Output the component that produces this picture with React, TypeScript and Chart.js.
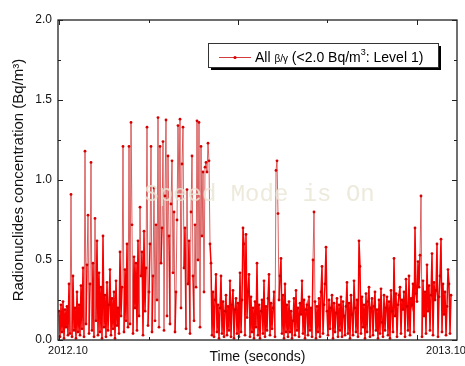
import { useEffect, useRef } from "react";
import { Chart, registerables } from "chart.js";

Chart.register(...registerables);

// Concentration values (Bq/m³), one sample per time step from 2012.10 to 2013.10
const concentration: number[] = [
  0.18, 0.02, 0.22, 0.05, 0.24, 0.01, 0.19, 0.08, 0.21, 0.03,
  0.35, 0.04, 0.91, 0.02, 0.40, 0.06, 0.20, 0.01, 0.30, 0.05,
  0.22, 0.03, 0.34, 0.07, 0.45, 0.02, 1.18, 0.10, 0.47, 0.78,
  0.04, 0.35, 1.11, 0.06, 0.48, 0.02, 0.76, 0.12, 0.62, 0.03,
  0.42, 0.05, 0.33, 0.01, 0.65, 0.08, 0.28, 0.02, 0.36, 0.06,
  0.22, 0.44, 0.03, 0.26, 0.07, 0.30, 0.01, 0.37, 0.09, 0.20,
  0.04, 0.55, 0.15, 0.33, 1.21, 0.05, 0.44, 0.12, 0.60, 0.08,
  1.21, 0.10, 1.36, 0.72, 0.04, 0.52, 0.20, 0.48, 0.06, 0.62,
  0.15, 0.83, 0.40, 0.55, 0.03, 0.68, 0.18, 0.45, 1.33, 0.09,
  0.30, 0.60, 1.21, 0.05, 0.40, 0.95, 0.12, 0.72, 0.25, 1.39,
  0.08, 1.21, 0.48, 0.70, 1.24, 0.06, 0.90, 1.375, 0.15, 1.15,
  0.65, 0.10, 0.85, 1.12, 0.42, 0.80, 0.05, 0.30, 0.75, 1.34,
  0.90, 1.38, 0.20, 1.10, 1.33, 0.45, 0.70, 0.07, 0.94, 0.35,
  0.62, 0.04, 0.80, 1.15, 0.40, 0.12, 0.72, 0.33, 1.37, 0.50,
  1.36, 0.08, 1.21, 0.65, 1.05, 0.30, 1.08, 1.11, 1.05, 1.23,
  1.12, 0.60, 0.48, 0.03, 0.30, 0.02, 0.25, 0.41, 0.05, 0.22,
  0.01, 0.20, 0.40, 0.04, 0.24, 0.02, 0.18, 0.28, 0.03, 0.21,
  0.06, 0.37, 0.02, 0.22, 0.31, 0.01, 0.19, 0.26, 0.04, 0.23,
  0.02, 0.42, 0.05, 0.25, 0.70, 0.60, 0.03, 0.66, 0.14, 0.30,
  0.41, 0.02, 0.27, 0.05, 0.20, 0.01, 0.24, 0.08, 0.48, 0.03,
  0.22, 0.01, 0.18, 0.25, 0.04, 0.37, 0.02, 0.21, 0.06, 0.26,
  0.41, 0.03, 0.23, 0.07, 0.20, 0.30, 0.02, 1.06, 1.12, 0.79,
  0.25, 0.40, 0.51, 0.04, 0.28, 0.01, 0.35, 0.05, 0.22, 0.02,
  0.24, 0.05, 0.18, 0.01, 0.12, 0.26, 0.03, 0.31, 0.06, 0.20,
  0.02, 0.23, 0.16, 0.37, 0.04, 0.25, 0.01, 0.19, 0.22, 0.03,
  0.27, 0.06, 0.20, 0.02, 0.50, 0.80, 0.24, 0.01, 0.21, 0.05,
  0.26, 0.02, 0.30, 0.46, 0.04, 0.22, 0.35, 0.58, 0.18, 0.03,
  0.25, 0.07, 0.20, 0.28, 0.01, 0.23, 0.05, 0.17, 0.26, 0.02,
  0.22, 0.06, 0.27, 0.02, 0.24, 0.15, 0.03, 0.21, 0.36, 0.04,
  0.23, 0.01, 0.28, 0.16, 0.03, 0.37, 0.20, 0.05, 0.25, 0.02,
  0.62, 0.46, 0.04, 0.27, 0.08, 0.22, 0.01, 0.29, 0.05, 0.24,
  0.33, 0.02, 0.20, 0.26, 0.03, 0.21, 0.30, 0.06, 0.19, 0.01,
  0.25, 0.04, 0.32, 0.11, 0.02, 0.28, 0.06, 0.20, 0.27, 0.03,
  0.24, 0.01, 0.31, 0.18, 0.05, 0.51, 0.15, 0.29, 0.02, 0.22,
  0.28, 0.33, 0.04, 0.25, 0.19, 0.30, 0.02, 0.38, 0.21, 0.06,
  0.40, 0.03, 0.26, 0.22, 0.35, 0.05, 0.70, 0.29, 0.24, 0.49,
  0.33, 0.53, 0.90, 0.02, 0.37, 0.15, 0.30, 0.04, 0.47, 0.18,
  0.34, 0.06, 0.28, 0.54, 0.03, 0.36, 0.25, 0.31, 0.60, 0.02,
  0.27, 0.40, 0.63, 0.05, 0.35, 0.16, 0.30, 0.03, 0.21, 0.44,
  0.35, 0.04, 0.28,
];

const xTickLabels: string[] = ["2012.10", "2013.10"];
const xTickSteps: number[] = [9, 387];
const xMajorTickSteps: number[] = [0.3, 179.3, 357.7];
const xMinorTickSteps: number[] = [90, 267.7];
const yMajorTicks: number[] = [0, 0.5, 1.0, 1.5, 2.0];
const yMinorTicks: number[] = [0.25, 0.75, 1.25, 1.75];

const FONT = "'Liberation Sans', Arial, sans-serif";

const framePlugin = {
  id: "frameTicks",
  afterDatasetsDraw(chart: any) {
    const { ctx, chartArea } = chart;
    const cx = (chartArea.left + chartArea.right) / 2;
    const cy = (chartArea.top + chartArea.bottom) / 2 + 15;
    ctx.save();
    ctx.font = "24px 'Liberation Mono', 'DejaVu Sans Mono', monospace";
    ctx.fillStyle = "rgba(234,230,214,0.85)";
    ctx.textAlign = "center";
    ctx.textBaseline = "middle";
    ctx.fillText("Speed Mode is On", cx + 2, cy);
    ctx.restore();
  },
  afterDraw(chart: any) {
    const { ctx, chartArea, scales } = chart;
    const { left, right, top, bottom } = chartArea;
    ctx.save();
    ctx.strokeStyle = "#222";
    ctx.lineWidth = 1.3;
    ctx.strokeRect(left, top, right - left, bottom - top);
    ctx.lineWidth = 1;
    const ys = scales.y;
    const xs = scales.x;
    const tick = (x1: number, y1: number, x2: number, y2: number) => {
      ctx.beginPath();
      ctx.moveTo(x1, y1);
      ctx.lineTo(x2, y2);
      ctx.stroke();
    };
    yMajorTicks.forEach((v) => {
      const p = Math.round(ys.getPixelForValue(v)) + 0.5;
      tick(left, p, left + 5, p);
      tick(right, p, right - 5, p);
    });
    yMinorTicks.forEach((v) => {
      const p = Math.round(ys.getPixelForValue(v)) + 0.5;
      tick(left, p, left + 3, p);
      tick(right, p, right - 3, p);
    });
    xMajorTickSteps.forEach((v) => {
      const p = Math.round(xs.getPixelForValue(v)) + 0.5;
      tick(p, top, p, top + 5);
      tick(p, bottom, p, bottom - 5);
    });
    xMinorTickSteps.forEach((v) => {
      const p = Math.round(xs.getPixelForValue(v)) + 0.5;
      tick(p, top, p, top + 3);
      tick(p, bottom, p, bottom - 3);
    });

    // legend box
    const bw = 230;
    const bh = 24;
    const bx = right - 19 - bw;
    const by = top + 23;
    ctx.fillStyle = "#000";
    ctx.fillRect(bx + 3, by + 3, bw, bh);
    ctx.fillStyle = "#fff";
    ctx.fillRect(bx, by, bw, bh);
    ctx.strokeStyle = "#333";
    ctx.lineWidth = 1;
    ctx.strokeRect(bx + 0.5, by + 0.5, bw, bh);
    const ly = by + 14.5;
    ctx.strokeStyle = "rgb(210,60,60)";
    ctx.beginPath();
    ctx.moveTo(bx + 11, ly);
    ctx.lineTo(bx + 43, ly);
    ctx.stroke();
    ctx.fillStyle = "rgb(220,0,0)";
    ctx.beginPath();
    ctx.arc(bx + 27, ly, 1.6, 0, Math.PI * 2);
    ctx.fill();
    ctx.fillStyle = "#000";
    ctx.textBaseline = "alphabetic";
    ctx.textAlign = "left";
    let tx = bx + 47;
    const base = by + 19;
    const part = (t: string, size: number, dy: number) => {
      ctx.font = `${size}px ${FONT}`;
      ctx.fillText(t, tx, base + dy);
      tx += ctx.measureText(t).width;
    };
    part("All ", 14, 0);
    part("β/γ", 10, 0);
    part(" (<2.0 Bq/m", 14, 0);
    part("3", 9, -7);
    part(": Level 1)", 14, 0);
    ctx.restore();
  },
};

export default function App() {
  const ref = useRef<HTMLCanvasElement | null>(null);
  useEffect(() => {
    document.body.style.margin = "0";
    const canvas = ref.current;
    if (!canvas) return;
    const points = concentration.map((v, i) => ({ x: i, y: v }));
    const high = (c: any) => Math.max(c.p0.parsed.y, c.p1.parsed.y) > 0.7;
    const chart = new Chart(canvas, {
      type: "line",
      data: {
        datasets: [
          {
            label: "All β/γ (<2.0 Bq/m³: Level 1)",
            data: points,
            borderColor: "rgb(240,0,0)",
            backgroundColor: "rgb(240,0,0)",
            borderWidth: 1.3,
            segment: {
              borderColor: (c: any) => (high(c) ? "rgba(210,60,60,0.8)" : "rgb(248,0,0)"),
              borderWidth: (c: any) => (high(c) ? 1 : 1.5),
            },
            pointRadius: 1.4,
            pointBorderWidth: 0,
            pointBackgroundColor: "rgb(215,0,0)",
            tension: 0,
            fill: false,
          },
        ],
      },
      options: {
        animation: false,
        responsive: false,
        maintainAspectRatio: false,
        layout: { padding: { left: 0, right: 8, top: 20, bottom: 0 } },
        plugins: {
          legend: { display: false },
          tooltip: { enabled: false },
        },
        scales: {
          x: {
            type: "linear",
            min: -1,
            max: 398,
            grid: { display: false, drawTicks: false },
            border: { display: false },
            afterBuildTicks: (s: any) => {
              s.ticks = xTickSteps.map((v) => ({ value: v }));
            },
            afterFit: (s: any) => {
              s.height = 26;
              s.paddingLeft = 0;
              s.paddingRight = 0;
            },
            ticks: {
              autoSkip: false,
              maxRotation: 0,
              padding: 4,
              color: "#111",
              font: { family: FONT, size: 11 },
              callback: (_v: any, i: number) => xTickLabels[i],
            },
            title: {
              display: true,
              text: "Time (seconds)",
              color: "#111",
              font: { family: FONT, size: 14 },
              padding: { top: 0, bottom: 0 },
            },
          },
          y: {
            min: 0,
            max: 2,
            grid: { display: false, drawTicks: false },
            border: { display: false },
            afterBuildTicks: (s: any) => {
              s.ticks = yMajorTicks.map((v) => ({ value: v }));
            },
            afterFit: (s: any) => {
              s.width = 58;
              s.paddingTop = 0;
              s.paddingBottom = 0;
            },
            ticks: {
              padding: 6,
              color: "#111",
              font: { family: FONT, size: 12 },
              callback: (v: any) => Number(v).toFixed(1),
            },
            title: {
              display: true,
              text: "Radionuclides concentration (Bq/m³)",
              color: "#111",
              font: { family: FONT, size: 15 },
              padding: { top: 10, bottom: 0 },
            },
          },
        },
      },
      plugins: [framePlugin],
    });
    return () => chart.destroy();
  }, []);
  return (
    <div style={{ position: "fixed", left: 0, top: 0, width: 465, height: 366, background: "#fff" }}>
      <canvas ref={ref} width={465} height={366} style={{ width: 465, height: 366 }} />
    </div>
  );
}
